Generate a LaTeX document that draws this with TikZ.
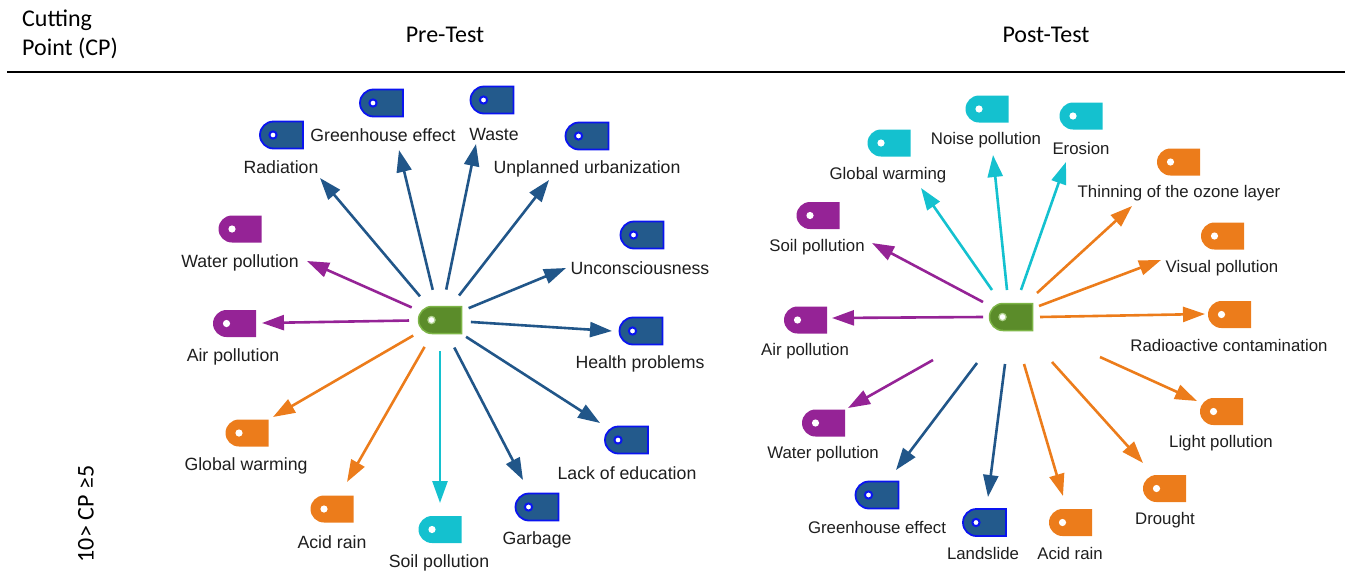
\documentclass[tikz,border=0pt]{standalone}
\usepackage{fontspec}
\setmainfont{Liberation Sans}
\newfontfamily\hdrfont{Carlito}
\usetikzlibrary{arrows.meta,shapes.misc,calc}
\definecolor{dblue}{HTML}{235A8C}
\definecolor{vblue}{HTML}{0A14F0}
\definecolor{ablue}{HTML}{215689}
\definecolor{purp}{HTML}{952396}
\definecolor{orng}{HTML}{EC7C1B}
\definecolor{cyn}{HTML}{14C1CF}
\definecolor{grn}{HTML}{5B8C2A}
\definecolor{grnl}{HTML}{7DB547}
\definecolor{txt}{HTML}{1E1E1E}
\newcommand\ent[8]{%
  \node[#2] (#1i) at (#3,#4) {};
  \node[#8] (#1l) at (#6,#7) {#5};
}
\begin{document}
\begin{tikzpicture}[x=1pt,y=-1pt,
  ico/.style={rounded rectangle, rounded rectangle right arc=none, minimum width=43pt, minimum height=27pt, inner sep=0pt},
  icB/.style={ico, fill=dblue, draw=vblue, line width=1.8pt, path picture={\filldraw[white,draw=vblue,line width=2pt] ([xshift=13pt]path picture bounding box.west) circle (3.6pt);}},
  icP/.style={ico, fill=purp, path picture={\fill[white] ([xshift=13.5pt]path picture bounding box.west) circle (3.6pt);}},
  icO/.style={ico, fill=orng, path picture={\fill[white] ([xshift=13.5pt]path picture bounding box.west) circle (3.6pt);}},
  icC/.style={ico, fill=cyn, path picture={\fill[white] ([xshift=13.5pt]path picture bounding box.west) circle (3.6pt);}},
  icG/.style={ico, fill=grn, draw=grnl, line width=1.5pt, path picture={\filldraw[white,draw=grnl!60!white,line width=1.2pt] ([xshift=13pt]path picture bounding box.west) circle (3.6pt);}},
  lpre/.style={text=txt, font=\fontsize{17.7}{20}\selectfont, inner sep=0pt},
  lpost/.style={text=txt, font=\fontsize{16.8}{20}\selectfont, inner sep=0pt},
  hdr/.style={font=\hdrfont\fontsize{24}{28}\selectfont, inner sep=0pt},
  arr/.style={line width=2.6pt, -{Triangle[length=22pt,width=15pt]}},
  aB/.style={arr, draw=ablue, fill=ablue},
  aP/.style={arr, draw=purp, fill=purp},
  aO/.style={arr, draw=orng, fill=orng},
  aC/.style={arr, draw=cyn, fill=cyn}
]
\useasboundingbox (0,0) rectangle (1350,576);
% header
\node[hdr, anchor=west] (cp1) at (22,20) {Cutting};
\node[hdr, anchor=west] (cp2) at (22,48) {Point (CP)};
\node[hdr] (pre) at (445,35) {Pre-Test};
\node[hdr] (post) at (1046,35) {Post-Test};
\coordinate (rl) at (7,72);
\coordinate (rr) at (1345,72);
\draw[line width=2pt] (rl) -- (rr);
\node[hdr, rotate=90] (cond) at (86,514) {10> CP ≥5};

% ---------- Pre-Test ----------
\node[icG] (c1) at (440,320) {};
\ent{a1}{icB}{381.5}{103}{Greenhouse effect}{383}{135}{lpre}
\ent{a2}{icB}{281.5}{135}{Radiation}{281}{167}{lpre}
\ent{a3}{icB}{492}{100}{Waste}{494}{134}{lpre}
\ent{a4}{icB}{587}{136}{Unplanned urbanization}{587}{169}{lpre}
\ent{a5}{icB}{642}{235}{Unconsciousness}{640}{268}{lpre}
\ent{a6}{icB}{641}{331}{Health problems}{640}{364}{lpre}
\ent{a7}{icB}{626.5}{440}{Lack of education}{627}{473}{lpre}
\ent{a8}{icB}{537}{507}{Garbage}{537}{540}{lpre}
\ent{a9}{icC}{440}{529.5}{Soil pollution}{439}{563}{lpre}
\ent{a10}{icO}{332}{509}{Acid rain}{332}{542}{lpre}
\ent{a11}{icO}{247}{433}{Global warming}{246}{466}{lpre}
\ent{a12}{icP}{234.5}{323.5}{Air pollution}{233}{357}{lpre}
\ent{a13}{icP}{240}{229}{Water pollution}{240}{263}{lpre}

\coordinate (at1) at (399,150);
\coordinate (at2) at (320,178);
\coordinate (at3) at (476,144);
\coordinate (at4) at (549,180);
\coordinate (at5) at (566,268);
\coordinate (at6) at (612,331);
\coordinate (at7) at (600,423);
\coordinate (at8) at (523,480);
\coordinate (at9) at (440,503);
\coordinate (at10) at (347,482);
\coordinate (at11) at (273,417);
\coordinate (at12) at (262,323);
\coordinate (at13) at (307,261);
\foreach \k/\s in {1/aB,2/aB,3/aB,4/aB,5/aB,6/aB,7/aB,8/aB,9/aC,10/aO,11/aO,12/aP,13/aP}
  \draw[\s] ($(c1)!31pt!(at\k)$) -- (at\k);

% ---------- Post-Test ----------
\node[icG] (c2) at (1011,317) {};
\ent{b1}{icC}{889}{143}{Global warming}{888}{175}{lpost}
\ent{b2}{icC}{987}{109}{Noise pollution}{986}{140}{lpost}
\ent{b3}{icC}{1081}{116}{Erosion}{1081}{148}{lpost}
\ent{b4}{icO}{1178.5}{162}{Thinning of the ozone layer}{1179}{193}{lpost}
\ent{b5}{icO}{1222.5}{236}{Visual pollution}{1222}{268}{lpost}
\ent{b6}{icO}{1229.5}{314.5}{Radioactive contamination}{1229}{345}{lpost}
\ent{b7}{icO}{1221.5}{411.5}{Light pollution}{1221}{443}{lpost}
\ent{b8}{icO}{1164.5}{488.5}{Drought}{1165}{520}{lpost}
\ent{b9}{icO}{1070.5}{522.5}{Acid rain}{1070}{553}{lpost}
\ent{b10}{icB}{984.5}{522.5}{Landslide}{983}{553}{lpost}
\ent{b11}{icB}{877}{495}{Greenhouse effect}{877}{527}{lpost}
\ent{b12}{icP}{823.5}{423}{Water pollution}{823}{454}{lpost}
\ent{b13}{icP}{805.5}{320}{Air pollution}{805}{351}{lpost}
\ent{b14}{icP}{818}{215.5}{Soil pollution}{817}{247}{lpost}

\coordinate (bs1) at (992,290);   \coordinate (bt1) at (921,188);
\coordinate (bs2) at (1007,290);  \coordinate (bt2) at (993,155);
\coordinate (bs3) at (1021,290);  \coordinate (bt3) at (1066,162);
\coordinate (bs4) at (1037,293);  \coordinate (bt4) at (1132,206);
\coordinate (bs5) at (1039,306);  \coordinate (bt5) at (1161,260);
\coordinate (bs6) at (1040,317);  \coordinate (bt6) at (1205,314);
\coordinate (bs7) at (1100,357);  \coordinate (bt7) at (1197,401);
\coordinate (bs8) at (1052,362);  \coordinate (bt8) at (1143,463);
\coordinate (bs9) at (1024,364);  \coordinate (bt9) at (1063,496);
\coordinate (bs10) at (1005,364); \coordinate (bt10) at (988,497);
\coordinate (bs11) at (977,363);  \coordinate (bt11) at (896,470);
\coordinate (bs12) at (933,360);  \coordinate (bt12) at (848,408);
\coordinate (bs13) at (983,317);  \coordinate (bt13) at (832,318);
\coordinate (bs14) at (983,302);  \coordinate (bt14) at (872,243);
\foreach \k/\s in {1/aC,2/aC,3/aC,4/aO,5/aO,6/aO,7/aO,8/aO,9/aO,10/aB,11/aB,12/aP,13/aP,14/aP}
  \draw[\s] (bs\k) -- (bt\k);
\end{tikzpicture}
\end{document}
